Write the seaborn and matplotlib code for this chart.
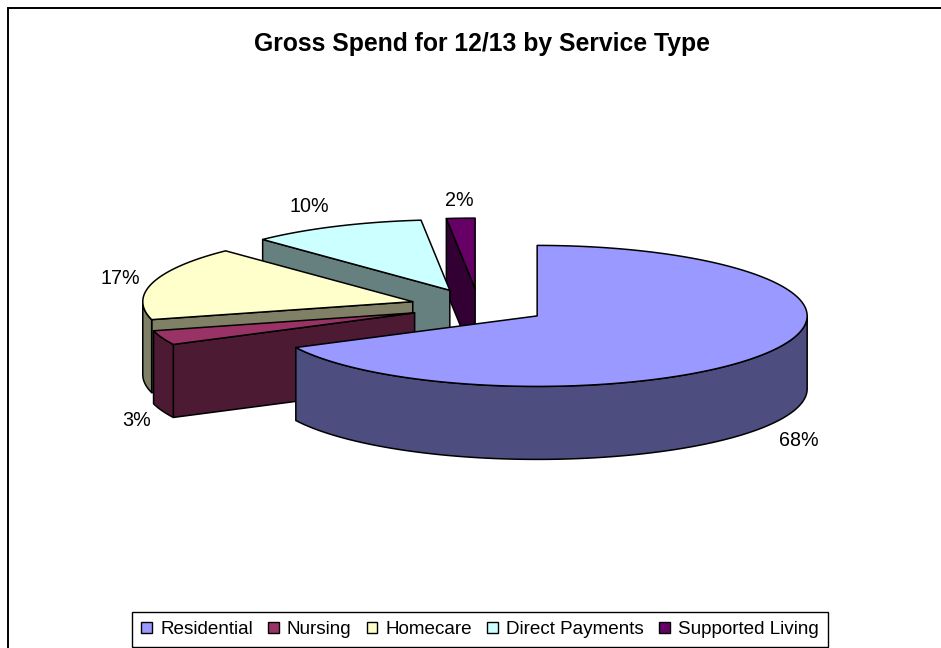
import numpy as np
import matplotlib
matplotlib.use("Agg")
import matplotlib.pyplot as plt
from matplotlib.patches import Polygon, Patch, Rectangle
import seaborn as sns

# Data
categories = ["Residential", "Nursing", "Homecare", "Direct Payments", "Supported Living"]
shares = [67.6, 3.3, 16.91, 10.49, 1.7]
title = "Gross Spend for 12/13 by Service Type"

# Style and layout
top_hex = ["#9999FF", "#993366", "#FFFFCC", "#CCFFFF", "#660066"]
CX, CY, RX, RY, DEPTH, EXPLODE = 478.8, 306.5, 270.0, 70.5, 73.0, 0.254
label_xy = [(799, 440), (137, 421), (120, 278), (309, 206), (459, 200)]

sns.set_theme(style="white")
plt.rcParams["font.family"] = ["Liberation Sans", "DejaVu Sans"]
palette = sns.color_palette(top_hex)
side_palette = [tuple(c * 0.5 for c in col) for col in palette]

fig = plt.figure(figsize=(9.41, 6.48), dpi=100)
ax = fig.add_axes([0, 0, 1, 1])
ax.set_xlim(0, 941)
ax.set_ylim(648, 0)
ax.axis("off")

ax.add_patch(Rectangle((8, 8), 960, 700, fc="white", ec="black", lw=1.4))

total = sum(shares)
edges = np.concatenate([[0.0], np.cumsum(shares)]) / total * 2 * np.pi


def rim(ox, oy, a, b, drop=0.0):
    n = max(int(abs(b - a) * 60), 2)
    t = np.linspace(a, b, n)
    return np.column_stack([ox + RX * np.sin(t), oy - RY * np.cos(t) + drop])


def face(points, color):
    ax.add_patch(Polygon(points, closed=True, fc=color, ec="black", lw=1.1, joinstyle="round"))


# Far slices first, the largest slice last, so nearer faces cover farther ones
for i in [4, 3, 2, 1, 0]:
    a, b = edges[i], edges[i + 1]
    mid = (a + b) / 2
    ox = CX + EXPLODE * RX * np.sin(mid)
    oy = CY - EXPLODE * RY * np.cos(mid)
    apex = np.array([ox, oy])
    down = np.array([0, DEPTH])
    for ang, visible in ((a, np.sin(a) < -1e-9), (b, np.sin(b) > 1e-9)):
        if visible:
            p = rim(ox, oy, ang, ang + 1e-6)[0]
            face([apex, p, p + down, apex + down], side_palette[i])
    lo, hi = max(a, np.pi / 2), min(b, 3 * np.pi / 2)
    if hi > lo:
        arc = rim(ox, oy, lo, hi)
        face(np.vstack([arc, (arc + down)[::-1]]), side_palette[i])
    face(np.vstack([[apex], rim(ox, oy, a, b)]), palette[i])

for share, (x, y) in zip(shares, label_xy):
    ax.text(x, y, f"{share:.0f}%", ha="center", va="center", fontsize=14.2, color="black")

ax.text(482, 44.5, title, ha="center", va="center", fontsize=17.8, fontweight="bold", color="black")

handles = [Patch(fc=c, ec="black", lw=1.0, label=n) for c, n in zip(palette, categories)]
leg = ax.legend(
    handles=handles, ncols=5, loc="center", bbox_to_anchor=(480 / 941, 1 - 629.5 / 648),
    frameon=True, fancybox=False, framealpha=1, edgecolor="black", facecolor="white",
    fontsize=13.6, handlelength=0.56, handleheight=0.56, handletextpad=0.42,
    columnspacing=0.82, borderpad=0.5, labelcolor="black",
)
leg.get_frame().set_linewidth(1.0)

fig.savefig("out.png", dpi=100, facecolor="white")
